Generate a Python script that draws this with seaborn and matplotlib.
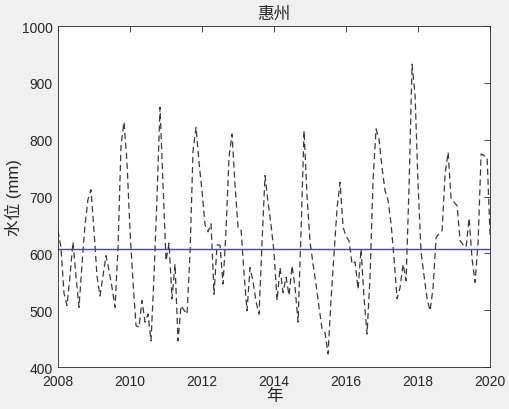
import numpy as np
import pandas as pd
import matplotlib
matplotlib.use("Agg")
import matplotlib.pyplot as plt
import seaborn as sns

# monthly water level, Jan 2008 .. Jan 2020
start_year = 2008
levels = [
    640, 610, 530, 508, 560, 620, 560, 505, 580, 650, 695, 712,
    640, 560, 525, 560, 596, 570, 540, 505, 610, 790, 831, 760,
    640, 550, 473, 470, 517, 479, 493, 446, 560, 700, 857, 720,
    587, 618, 520, 581, 446, 508, 500, 493, 600, 780, 822, 760,
    710, 650, 638, 652, 528, 615, 614, 546, 640, 770, 810, 720,
    646, 643, 564, 499, 575, 550, 515, 493, 620, 737, 690, 650,
    602, 517, 575, 531, 558, 526, 578, 540, 479, 640, 816, 700,
    620, 581, 545, 505, 467, 460, 423, 520, 600, 680, 725, 646,
    630, 622, 581, 585, 537, 608, 520, 458, 560, 730, 819, 800,
    750, 710, 693, 652, 590, 520, 540, 581, 552, 720, 933, 878,
    720, 602, 560, 520, 499, 540, 628, 635, 640, 740, 778, 696,
    690, 684, 622, 615, 611, 662, 590, 549, 620, 775, 772, 769,
    631,
]
mean_level = 607
x_ticks = [2008, 2010, 2012, 2014, 2016, 2018, 2020]
y_ticks = [400, 500, 600, 700, 800, 900, 1000]

df = pd.DataFrame({
    "year": start_year + np.arange(len(levels)) / 12,
    "level": levels,
})

sns.set_style("white")
plt.rcParams["font.family"] = ["Liberation Sans", "Noto Sans CJK SC", "DejaVu Sans"]

fig = plt.figure(figsize=(5.1, 4.1), dpi=100, facecolor="#f0f0f0")
ax = fig.add_axes([0.1137, 0.1024, 0.8473, 0.8316])

sns.lineplot(data=df, x="year", y="level", ax=ax, color="#3a3a3a",
             linestyle="--", linewidth=0.9, dashes=False)
ax.lines[0].set_dashes([5, 3])
ax.axhline(mean_level, color="#3c3cff", linewidth=1.0)

ax.set_xlim(2008, 2020)
ax.set_ylim(400, 1000)
ax.set_xticks(x_ticks)
ax.set_yticks(y_ticks)
ax.tick_params(direction="in", length=4, width=0.6, labelsize=10,
               top=True, right=True, colors="#262626", pad=4)
ax.tick_params(axis="x", pad=5)
for s in ax.spines.values():
    s.set_color("#262626")
    s.set_linewidth(0.6)

ax.set_title("惠州", fontsize=12, color="#262626", pad=6)
ax.set_xlabel("年", fontsize=12, color="#262626", labelpad=0)
ax.set_ylabel("水位 (mm)", fontsize=12, color="#262626", labelpad=0)

fig.savefig("out.png", dpi=100, facecolor=fig.get_facecolor())
